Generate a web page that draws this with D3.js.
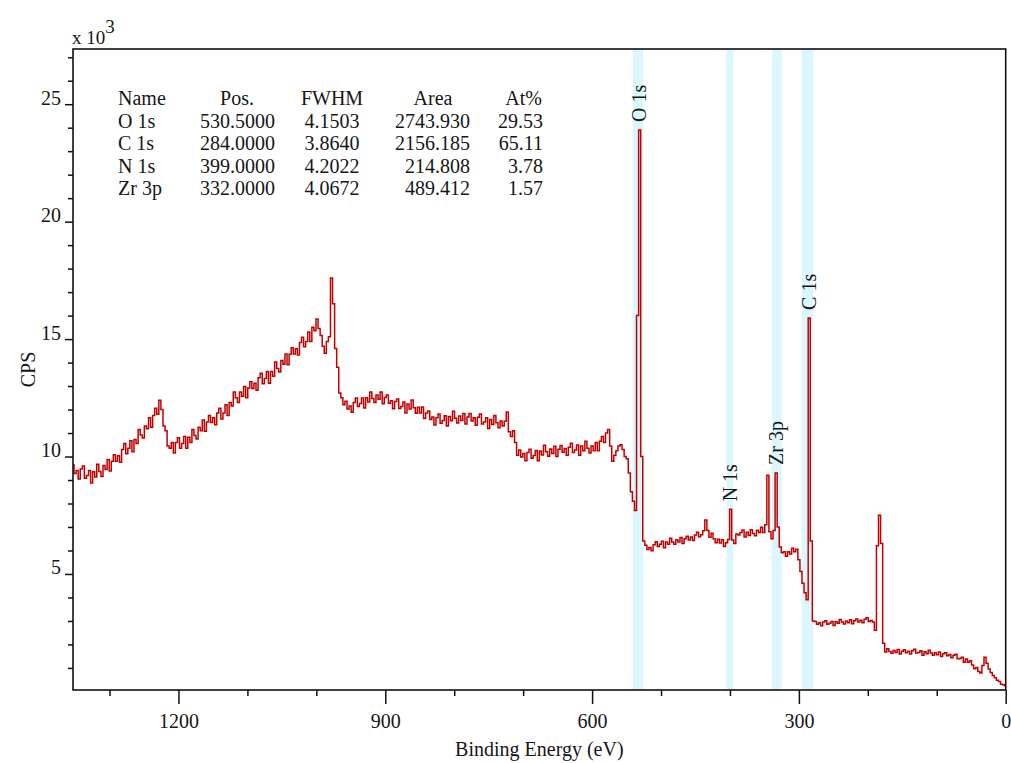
<!DOCTYPE html>
<html>
<head>
<meta charset="utf-8">
<script src="https://cdn.jsdelivr.net/npm/d3@7"></script>
<style>
body { margin: 0; background: #fff; }
text { font-family: "Liberation Serif", "Times New Roman", serif; fill: #161616; }
</style>
</head>
<body>
<script>
const tableHead = ["Name", "Pos.", "FWHM", "Area", "At%"];
const peakNames = ["O 1s", "C 1s", "N 1s", "Zr 3p"];
const peakPos = ["530.5000", "284.0000", "399.0000", "332.0000"];
const peakFwhm = ["4.1503", "3.8640", "4.2022", "4.0672"];
const peakArea = ["2743.930", "2156.185", "214.808", "489.412"];
const peakAt = ["29.53", "65.11", "3.78", "1.57"];

// region bounds (eV) of the shaded bands
const regionFrom = [541, 296, 405, 339];
const regionTo = [526, 279, 395, 325];

const xTicks = [1200, 900, 600, 300, 0];
const xMinor = [1300, 1100, 1000, 800, 700, 500, 400, 200, 100];
const yTicks = [5, 10, 15, 20, 25];
const yMinor = [1, 2, 3, 4, 6, 7, 8, 9, 11, 12, 13, 14, 16, 17, 18, 19, 21, 22, 23, 24, 26, 27];

// [binding energy eV, CPS x 10^3]
const spectrum = [
  [1353,9.65],[1350,9.28],[1347,9.41],[1344,9.04],[1341,9.47],[1338,9.6],[1335,9.07],[1332,9.19],[1329,9.4],[1326,8.87],
  [1323,9.35],[1320,9.13],[1317,9.67],[1314,9.36],[1311,9.15],[1308,9.62],[1305,9.45],[1302,9.87],[1299,9.38],[1296,9.8],
  [1293,10.08],[1290,9.8],[1287,10.03],[1284,9.76],[1281,10.3],[1278,10.55],[1275,10.12],[1272,10.35],[1269,10.67],[1266,10.2],
  [1263,10.72],[1260,10.55],[1257,11.15],[1254,10.92],[1251,10.79],[1248,11.3],[1245,11.18],[1242,11.65],[1239,11.25],[1236,11.75],
  [1233,12.05],[1230,11.8],[1227,12.4],[1224,12.0],[1221,11.3],[1218,11.1],[1215,10.45],[1212,10.35],[1209,10.6],[1206,10.15],
  [1203,10.6],[1200,10.8],[1197,10.35],[1194,10.55],[1191,10.85],[1188,10.35],[1185,10.82],[1182,10.6],[1179,11.15],[1176,10.9],
  [1173,10.75],[1170,11.25],[1167,11.1],[1164,11.55],[1161,11.08],[1158,11.47],[1155,11.75],[1152,11.45],[1149,11.65],[1146,11.35],
  [1143,11.85],[1140,12.05],[1137,11.6],[1134,11.85],[1131,12.2],[1128,11.75],[1125,12.3],[1122,12.15],[1119,12.75],[1116,12.5],
  [1113,12.3],[1110,12.75],[1107,12.57],[1104,12.98],[1101,12.5],[1098,12.92],[1095,13.18],[1092,12.9],[1089,13.12],[1086,12.82],
  [1083,13.35],[1080,13.55],[1077,13.1],[1074,13.32],[1071,13.62],[1068,13.12],[1065,13.62],[1062,13.42],[1059,14.02],[1056,13.75],
  [1053,13.6],[1050,14.09],[1047,13.93],[1044,14.37],[1041,13.91],[1038,14.35],[1035,14.63],[1032,14.36],[1029,14.59],[1026,14.32],
  [1023,14.85],[1020,15.08],[1017,14.67],[1014,14.9],[1011,15.3],[1008,14.9],[1005,15.5],[1002,15.35],[999,15.85],[996,15.45],
  [993,15.15],[990,14.7],[987,14.4],[984,14.9],[981,15.1],[978,17.6],[975,16.5],[972,14.6],[969,13.8],[966,12.7],
  [963,12.5],[960,12.2],[957,12.35],[954,12.02],[951,12.15],[948,11.88],[945,12.3],[942,12.49],[939,12.13],[936,12.26],
  [933,12.49],[930,12.07],[927,12.5],[924,12.32],[921,12.75],[918,12.47],[915,12.3],[912,12.62],[909,12.44],[906,12.75],
  [903,12.25],[900,12.51],[897,12.62],[894,12.27],[891,12.37],[888,12.03],[885,12.34],[882,12.45],[879,12.04],[876,12.13],
  [873,12.32],[870,11.85],[867,12.24],[864,12.02],[861,12.41],[858,12.08],[855,11.84],[852,12.1],[849,11.85],[846,12.11],
  [843,11.62],[840,11.85],[837,11.94],[834,11.58],[831,11.68],[828,11.34],[825,11.65],[822,11.81],[819,11.42],[816,11.53],
  [813,11.74],[810,11.3],[807,11.7],[804,11.52],[801,11.93],[798,11.63],[795,11.43],[792,11.73],[789,11.53],[786,11.83],
  [783,11.38],[780,11.68],[777,11.83],[774,11.51],[771,11.65],[768,11.33],[765,11.67],[762,11.81],[759,11.39],[756,11.47],
  [753,11.65],[750,11.19],[747,11.58],[744,11.36],[741,11.75],[738,11.44],[735,11.23],[732,11.51],[729,11.3],[726,11.5],
  [723,11.9],[720,11.05],[717,10.85],[714,11.1],[711,10.6],[708,10.05],[705,10.28],[702,9.98],[699,10.13],[696,9.82],
  [693,10.17],[690,10.31],[687,9.93],[684,10.04],[681,10.26],[678,9.82],[675,10.24],[672,10.06],[669,10.48],[666,10.2],
  [663,10.01],[660,10.32],[657,10.13],[654,10.44],[651,10.0],[648,10.31],[645,10.47],[642,10.18],[639,10.34],[636,10.05],
  [633,10.4],[630,10.56],[627,10.17],[624,10.28],[621,10.49],[618,10.05],[615,10.45],[612,10.25],[609,10.65],[606,10.35],
  [603,10.15],[600,10.45],[597,10.25],[594,10.6],[591,10.25],[588,10.65],[585,10.85],[582,10.6],[579,11.0],[576,11.15],
  [573,10.45],[570,9.8],[567,10.05],[564,10.25],[561,10.45],[558,10.5],[555,10.3],[552,10.0],[549,9.9],[546,9.3],
  [543,8.5],[540,8.1],[537,7.7],[534,16.0],[531,23.9],[528,10.0],[525,6.4],[522,6.22],[519,6.04],[516,6.13],
  [513,5.99],[510,6.24],[507,6.37],[504,6.17],[501,6.27],[498,6.39],[495,6.12],[492,6.36],[489,6.26],[486,6.52],
  [483,6.36],[480,6.26],[477,6.46],[474,6.36],[471,6.55],[468,6.3],[465,6.5],[462,6.61],[459,6.45],[456,6.57],
  [453,6.42],[450,6.66],[447,6.78],[444,6.58],[441,6.67],[438,6.84],[435,7.3],[432,6.85],[429,6.56],[426,6.73],
  [423,6.5],[420,6.33],[417,6.48],[414,6.32],[411,6.46],[408,6.17],[405,6.33],[402,6.47],[399,7.75],[396,6.45],
  [393,6.3],[390,6.7],[387,6.66],[384,6.77],[381,6.87],[378,6.57],[375,6.78],[372,6.64],[369,6.88],[366,6.72],
  [363,6.63],[360,6.86],[357,6.77],[354,6.99],[351,6.77],[348,7.1],[345,9.2],[342,6.8],[339,6.5],[336,6.85],
  [333,9.3],[330,7.0],[327,6.15],[324,5.9],[321,5.95],[318,5.75],[315,5.95],[312,5.85],[309,6.1],[306,5.95],
  [303,6.05],[300,5.6],[297,5.1],[294,4.6],[291,4.2],[288,3.9],[285,15.9],[282,6.4],[279,3.0],[276,2.98],
  [273,2.86],[270,2.92],[267,2.8],[264,2.95],[261,3.01],[258,2.86],[255,2.9],[252,2.98],[249,2.81],[246,2.97],
  [243,2.9],[240,3.06],[237,2.95],[234,2.87],[231,3.0],[228,2.92],[225,3.05],[222,2.88],[219,3.01],[216,3.08],
  [213,2.96],[210,3.03],[207,2.92],[204,3.07],[201,3.14],[198,2.98],[195,3.02],[192,2.95],[189,2.6],[186,6.2],
  [183,7.5],[180,6.3],[177,2.05],[174,1.68],[171,1.82],[168,1.7],[165,1.62],[162,1.74],[159,1.66],[156,1.78],
  [153,1.59],[150,1.71],[147,1.77],[144,1.65],[141,1.71],[138,1.59],[135,1.73],[132,1.79],[129,1.63],[126,1.66],
  [123,1.73],[120,1.54],[117,1.69],[114,1.6],[111,1.75],[108,1.63],[105,1.54],[102,1.65],[99,1.56],[96,1.68],
  [93,1.49],[90,1.6],[87,1.65],[84,1.52],[81,1.57],[78,1.43],[75,1.54],[72,1.58],[69,1.39],[66,1.4],
  [63,1.45],[60,1.24],[57,1.38],[54,1.24],[51,1.3],[48,1.12],[45,0.96],[42,1.02],[39,0.85],[36,0.78],
  [33,1.1],[30,1.45],[27,1.2],[24,0.95],[21,0.8],[18,0.68],[15,0.58],[12,0.48],[9,0.42],[6,0.3],
  [3,0.28],[0,0.24]
];

const width = 1011, height = 763;
const plotLeft = 73, plotRight = 1005.7, plotTop = 49, plotBottom = 690;

const svg = d3.select("body")
  .append("svg")
  .attr("width", width)
  .attr("height", height);

const x = d3.scaleLinear().domain([1353, 0]).range([plotLeft, plotRight]);
const y = d3.scaleLinear().domain([0.06, 27.35]).range([plotBottom, plotTop]);

svg.append("clipPath").attr("id", "plot")
  .append("rect")
  .attr("x", plotLeft).attr("y", plotTop)
  .attr("width", plotRight - plotLeft).attr("height", plotBottom - plotTop);

// shaded regions
svg.selectAll("rect.region")
  .data(regionFrom)
  .enter()
  .append("rect")
  .attr("class", "region")
  .attr("x", d => x(d))
  .attr("width", (d, i) => x(regionTo[i]) - x(d))
  .attr("y", plotTop)
  .attr("height", plotBottom - plotTop)
  .attr("fill", "#dcf7fb");

const line = d3.line()
  .x(d => x(d[0]))
  .y(d => y(d[1]))
  .curve(d3.curveStep);

svg.append("path")
  .datum(spectrum)
  .attr("clip-path", "url(#plot)")
  .attr("fill", "none")
  .attr("stroke", "#c30000")
  .attr("stroke-width", 1.5)
  .attr("d", line);

// axes
const styleAxis = g => {
  g.select(".domain").remove();
  g.selectAll("line").attr("stroke", "#111").attr("stroke-width", 1.5);
  g.selectAll("text").attr("font-size", 20).attr("font-family", "Liberation Serif").attr("fill", "#161616");
};

svg.append("g")
  .attr("transform", `translate(0,${plotBottom})`)
  .call(d3.axisBottom(x).tickValues(xMinor).tickSize(6).tickFormat(""))
  .call(styleAxis);

svg.append("g")
  .attr("transform", `translate(0,${plotBottom})`)
  .call(d3.axisBottom(x).tickValues(xTicks).tickSize(14).tickPadding(10).tickFormat(d3.format("d")))
  .call(styleAxis);

svg.append("g")
  .attr("transform", `translate(${plotLeft},0)`)
  .call(d3.axisLeft(y).tickValues(yMinor).tickSize(5).tickFormat(""))
  .call(styleAxis);

svg.append("g")
  .attr("transform", `translate(${plotLeft},0)`)
  .call(d3.axisLeft(y).tickValues(yTicks).tickSize(8).tickPadding(4).tickFormat(d3.format("d")))
  .call(styleAxis)
  .call(g => g.selectAll("text").attr("dy", "0"));

svg.append("rect")
  .attr("x", plotLeft).attr("y", plotTop)
  .attr("width", plotRight - plotLeft).attr("height", plotBottom - plotTop)
  .attr("fill", "none")
  .attr("stroke", "#111")
  .attr("stroke-width", 1.6);

// axis titles
const exp = svg.append("text")
  .attr("x", 72).attr("y", 44)
  .attr("font-size", 19);
exp.append("tspan").text("x 10");
exp.append("tspan").attr("dy", -11).text("3");

svg.append("text")
  .attr("transform", `translate(35,${(plotTop + plotBottom) / 2}) rotate(-90)`)
  .attr("text-anchor", "middle")
  .attr("font-size", 20)
  .text("CPS");

svg.append("text")
  .attr("x", (plotLeft + plotRight) / 2)
  .attr("y", 756)
  .attr("text-anchor", "middle")
  .attr("font-size", 20)
  .text("Binding Energy (eV)");

// peak labels above each peak
peakNames.forEach((name, i) => {
  const pos = +peakPos[i];
  const peakTop = d3.max(spectrum.filter(d => Math.abs(d[0] - pos) <= 4), d => d[1]);
  svg.append("text")
    .attr("transform", `translate(${x(pos) + 6},${y(peakTop) - 8}) rotate(-90)`)
    .attr("font-size", 20)
    .text(name);
});

// quantification table
const cols = [
  { x: 118, anchor: "start", head: "start", hx: 118, values: peakNames },
  { x: 275, anchor: "end", head: "middle", hx: 237, values: peakPos },
  { x: 332, anchor: "middle", head: "middle", hx: 332, values: peakFwhm },
  { x: 470, anchor: "end", head: "middle", hx: 433, values: peakArea },
  { x: 543, anchor: "end", head: "end", hx: 542, values: peakAt },
];

const table = svg.append("g");
cols.forEach((c, j) => {
  table.append("text")
    .attr("x", c.hx).attr("y", 105)
    .attr("text-anchor", c.head)
    .attr("font-size", 20)
    .text(tableHead[j]);
  c.values.forEach((v, i) => {
    table.append("text")
      .attr("x", c.x).attr("y", 105 + 22.5 * (i + 1))
      .attr("text-anchor", c.anchor)
      .attr("font-size", 20)
      .text(v);
  });
});
</script>
</body>
</html>
